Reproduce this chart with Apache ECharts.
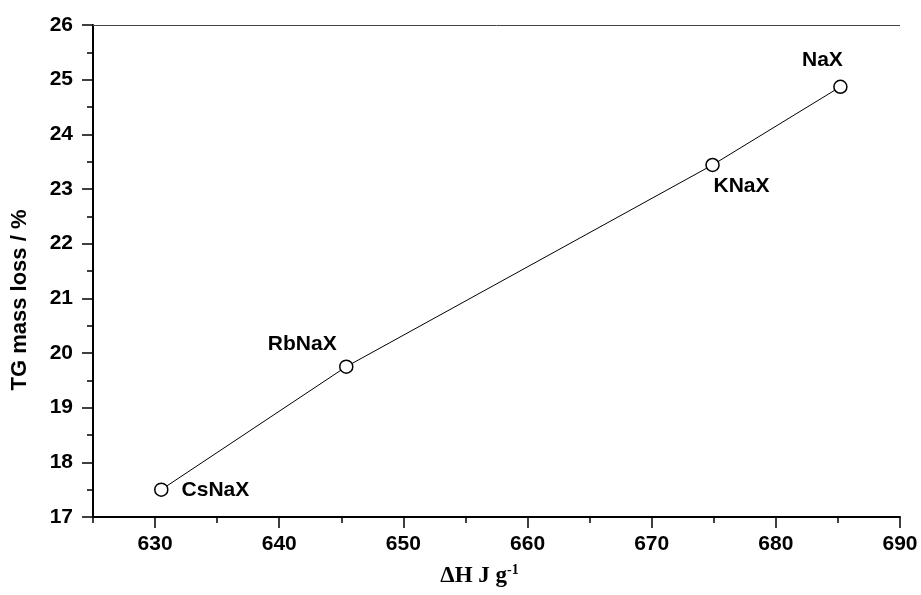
<!DOCTYPE html>
<html>
<head>
<meta charset="utf-8">
<script src="https://cdn.jsdelivr.net/npm/echarts@6/dist/echarts.min.js"></script>
<style>
  html, body { margin: 0; padding: 0; background: #fff; }
  #chart { width: 921px; height: 595px; }
</style>
</head>
<body>
<div id="chart"></div>
<script>
// values
const samples = ['CsNaX', 'RbNaX', 'KNaX', 'NaX']
const deltaH = [630.5, 645.4, 674.9, 685.2]
const massLoss = [17.5, 19.75, 23.44, 24.87]
const xMajor = [630, 640, 650, 660, 670, 680, 690]
const xMinor = [625, 635, 645, 655, 665, 675, 685]

// where each sample's name sits next to its point
const labelPos = {
  CsNaX: { position: 'right', offset: [8, 1] },
  RbNaX: { position: 'top', offset: [-44, 0] },
  KNaX: { position: 'bottom', offset: [29, -1] },
  NaX: { position: 'top', offset: [-18, -4] }
}

const chart = echarts.init(document.getElementById('chart'))

const points = samples.map((s, i) => ({
  name: s,
  value: [deltaH[i], massLoss[i]],
  label: labelPos[s]
}))

const sans = 'Liberation Sans, Arial, Helvetica, sans-serif'
const serif = 'Liberation Serif, Times New Roman, serif'
const tickFont = { color: '#000', fontFamily: sans, fontWeight: 'bold', fontSize: 21 }

chart.setOption({
  animation: false,
  grid: { left: 93, right: 21, top: 25, bottom: 78 },
  xAxis: [
    {
      type: 'value',
      min: 625,
      max: 690,
      axisLine: { lineStyle: { color: '#000', width: 2 } },
      axisTick: { customValues: xMajor, length: 11, lineStyle: { color: '#000', width: 1.5 } },
      axisLabel: Object.assign({ customValues: xMajor, margin: 17 }, tickFont),
      splitLine: { show: false },
      name: '{a|ΔH J g}{s|-1}',
      nameLocation: 'middle',
      nameGap: 46,
      nameTextStyle: {
        padding: [0, 34, 0, 0],
        rich: {
          a: { fontFamily: serif, fontWeight: 'bold', fontSize: 23, color: '#000' },
          s: { fontFamily: serif, fontWeight: 'bold', fontSize: 14, color: '#000', verticalAlign: 'top', padding: [0, 0, 12, 0] }
        }
      }
    },
    {
      type: 'value',
      position: 'bottom',
      min: 625,
      max: 690,
      axisLine: { show: false },
      axisTick: { customValues: xMinor, length: 6, lineStyle: { color: '#000', width: 1.5 } },
      axisLabel: { show: false },
      splitLine: { show: false }
    }
  ],
  yAxis: [
    {
      type: 'value',
      min: 17,
      max: 26,
      interval: 1,
      axisLine: { show: true, lineStyle: { color: '#000', width: 2 } },
      axisTick: { show: true, length: 11, lineStyle: { color: '#000', width: 1.5 } },
      minorTick: { show: true, splitNumber: 2, length: 6, lineStyle: { color: '#000', width: 1.5 } },
      axisLabel: Object.assign({ margin: 20 }, tickFont),
      splitLine: { show: false },
      name: 'TG mass loss / %',
      nameLocation: 'middle',
      nameGap: 62,
      nameTextStyle: {
        color: '#000',
        fontFamily: sans,
        fontWeight: 'bold',
        fontSize: 22,
        padding: [0, 58, 0, 0]
      }
    }
  ],
  series: [
    {
      type: 'line',
      data: points,
      symbol: 'circle',
      symbolSize: 13,
      itemStyle: { color: '#fff', borderColor: '#000', borderWidth: 1.5 },
      lineStyle: { color: '#000', width: 1 },
      label: {
        show: true,
        formatter: p => p.name,
        color: '#000',
        fontFamily: sans,
        fontWeight: 'bold',
        fontSize: 21
      },
      markLine: {
        silent: true,
        symbol: 'none',
        label: { show: false },
        lineStyle: { color: '#444', width: 1, type: 'solid' },
        data: [{ yAxis: 26 }]
      }
    }
  ]
})
</script>
</body>
</html>
